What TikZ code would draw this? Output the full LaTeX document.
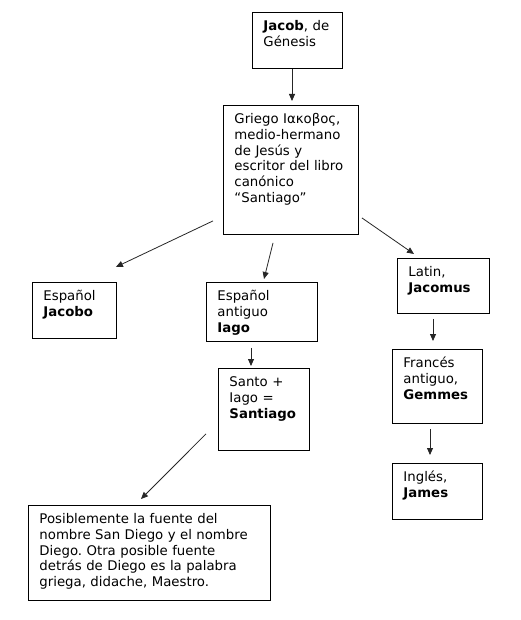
\documentclass[tikz,border=0pt]{standalone}
\usepackage{fontspec}
\setmainfont{DejaVu Sans}
\usepackage{tikz}
\usetikzlibrary{arrows.meta}
\usetikzlibrary{positioning}
\frenchspacing

\tikzset{
	box/.style 2 args={draw, line width=0.9pt, anchor=north west, align=left,
		inner xsep=11pt, inner ysep=0pt, text width=#1pt-22pt,
		text height=18pt, text depth=#2pt-18pt,
		font=\fontsize{13.3pt}{15.8pt}\selectfont},
	arr/.style={-{Triangle[length=7pt,width=6pt]}, line width=0.8pt, black!85}
}

\begin{document}
\begin{tikzpicture}[x=1pt,y=-1pt]

						\fill[white] (0,0) rectangle (520,620);
						\useasboundingbox (0,0) rectangle (520,620);
						\node[box={90}{56}] (jacob) at (252,12) {\textbf{Jacob}, de\\Génesis};
						\node[box={135}{129}] (griego) at (223,105) {Griego Ιακοβος,\\medio-hermano\\de Jesús y\\escritor del libro\\canónico\\“Santiago”};
						\node[box={84}{56}] (jacobo) at (32,282) {Español\\\textbf{Jacobo}};
						\node[box={111}{59}] (iago) at (206,282) {Español\\antiguo\\\textbf{Iago}};
						\node[box={91}{82}] (santiago) at (218,368) {Santo +\\Iago =\\\textbf{Santiago}};
						\node[box={242}{95}] (diego) at (28,505) {Posiblemente la fuente del\\nombre San Diego y el nombre\\Diego. Otra posible fuente\\detrás de Diego es la palabra\\griega, didache, Maestro.};
						\node[box={92}{55}] (latin) at (397,258) {Latin,\\\textbf{Jacomus}};
						\node[box={90}{74}] (gemmes) at (392,349) {Francés\\antiguo,\\\textbf{Gemmes}};
						\node[box={90}{56}] (james) at (392,463) {Inglés,\\\textbf{James}};

						\draw[arr] ([shift={(40,0)}]jacob.south west) -- ([shift={(69,-4)}]griego.north west);
						\draw[arr] ([shift={(-10,-14)}]griego.south west) -- ([shift={(-1,-15)}]jacobo.north east);
						\draw[arr] ([shift={(50,8)}]griego.south west) -- ([shift={(58,-3)}]iago.north west);
						\draw[arr] ([shift={(3,-17)}]griego.south east) -- ([shift={(17,-4)}]latin.north west);
						\draw[arr] ([shift={(45,6)}]iago.south west) -- ([shift={(33,-2)}]santiago.north west);
						\draw[arr] ([shift={(-12,-17)}]santiago.south west) -- ([shift={(113,-6)}]diego.north west);
						\draw[arr] ([shift={(36,5)}]latin.south west) -- ([shift={(41,-8)}]gemmes.north west);
						\draw[arr] ([shift={(38,5)}]gemmes.south west) -- ([shift={(38,-8)}]james.north west);
					\end{tikzpicture}
\end{document}
